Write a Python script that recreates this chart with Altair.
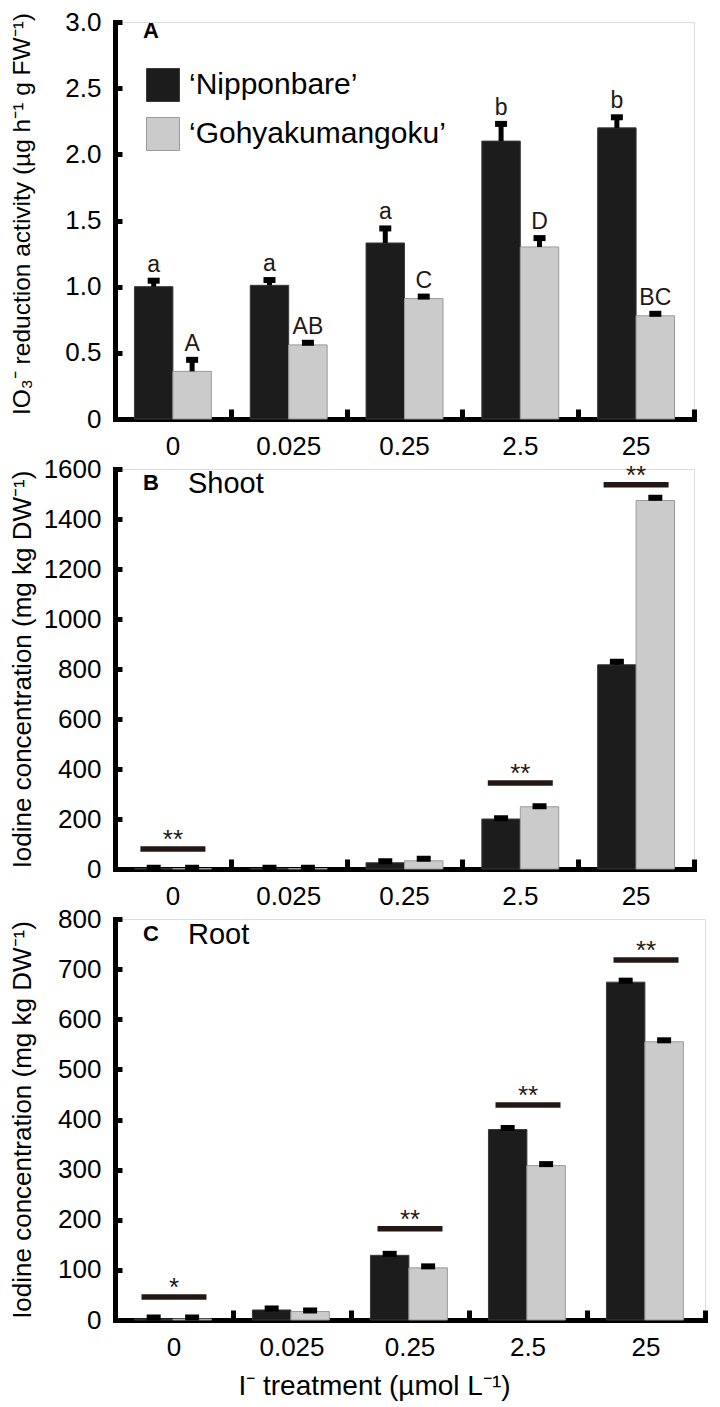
import altair as alt
import pandas as pd

FONT = "Liberation Sans"

treatments = ["0", "0.025", "0.25", "2.5", "25"]
cultivars = ["\u2018Nipponbare\u2019", "\u2018Gohyakumangoku\u2019"]
bar_colors = ["#1c1c1c", "#cbcbcb"]
edge_colors = ["#3a3a3a", "#9a9a9a"]

# Panel A: IO3- reduction activity
a_nip = [1.00, 1.01, 1.33, 2.10, 2.20]
a_nip_se = [0.045, 0.04, 0.11, 0.13, 0.08]
a_goh = [0.36, 0.56, 0.91, 1.30, 0.78]
a_goh_se = [0.087, 0.016, 0.015, 0.067, 0.015]
a_nip_letters = ["a", "a", "a", "b", "b"]
a_goh_letters = ["A", "AB", "C", "D", "BC"]

# Panel B: shoot iodine
b_nip = [2, 2, 25, 200, 817]
b_nip_se = [3, 3, 6, 3, 12]
b_goh = [2, 2, 33, 249, 1474]
b_goh_se = [3, 3, 8, 2, 11]
b_sig_treat = ["0", "2.5", "25"]
b_sig_y = [80, 344, 1537]
b_sig_text = ["**", "**", "**"]

# Panel C: root iodine
c_nip = [2, 20, 129, 380, 674]
c_nip_se = [3, 3, 3, 3, 3]
c_goh = [2, 17, 104, 308, 555]
c_goh_se = [3, 2, 3, 3, 3]
c_sig_treat = ["0", "0.25", "2.5", "25"]
c_sig_y = [46, 182, 429, 718]
c_sig_text = ["*", "**", "**", "**"]


def bars_df(nip, nip_se, goh, goh_se, nl=None, gl=None):
    rows = []
    for i, t in enumerate(treatments):
        rows.append(dict(treatment=t, cultivar=cultivars[0], mean=nip[i],
                         top=nip[i] + nip_se[i], letter=nl[i] if nl else ""))
        rows.append(dict(treatment=t, cultivar=cultivars[1], mean=goh[i],
                         top=goh[i] + goh_se[i], letter=gl[i] if gl else ""))
    return pd.DataFrame(rows)


def panel(df, sig_df, ymax, ystep, H, W, ytitle, title_size, title_shift, off_pad, cap_w,
          label, sublabel, label_y, legend, xtitle, label_expr):
    n = int(round(ymax / ystep))
    yvals = [round(i * ystep, 4) for i in range(n + 1)]
    xscale = alt.Scale(domain=treatments, paddingInner=0, paddingOuter=0)
    oscale = alt.Scale(domain=cultivars, paddingInner=0, paddingOuter=off_pad)
    yscale = alt.Scale(domain=[0, ymax], nice=False, zero=True)

    xax = dict(orient="bottom", labelAngle=0, ticks=False, tickSize=0,
               domain=True, domainWidth=5, domainColor="black", domainCap="square",
               labelPadding=14, labelFontSize=26, labelFont=FONT, labelColor="black",
               grid=False)
    if xtitle:
        xax.update(title=xtitle, titleX=259, titleY=74, titleFontSize=28,
                   titleFont=FONT, titleFontWeight="normal", titleBaseline="alphabetic",
                   titleAlign="center", titleColor="black")
    else:
        xax.update(title=None)

    yax = alt.Axis(orient="left", title=ytitle, titleX=-93, titleY=H / 2 - title_shift,
                   titleAngle=270, titleBaseline="middle", titleAlign="center",
                   titleFontSize=title_size, titleFont=FONT, titleFontWeight="normal",
                   titleColor="black", values=yvals, labelExpr=label_expr,
                   ticks=False, tickSize=0, domain=True, domainWidth=5,
                   domainColor="black", domainCap="square", labelPadding=14,
                   labelFontSize=26, labelFont=FONT, labelColor="black", grid=False)

    xoff = alt.XOffset("cultivar:N", scale=oscale, sort=cultivars)

    bars = alt.Chart(df).mark_bar(strokeWidth=1).encode(
        x=alt.X("treatment:N", scale=xscale, sort=treatments, axis=alt.Axis(**xax)),
        xOffset=xoff,
        y=alt.Y("mean:Q", scale=yscale, axis=yax),
        color=alt.Color("cultivar:N", scale=alt.Scale(domain=cultivars, range=bar_colors),
                        sort=cultivars, legend=legend),
        stroke=alt.Stroke("cultivar:N", scale=alt.Scale(domain=cultivars, range=edge_colors),
                          sort=cultivars, legend=None),
    )

    stems = alt.Chart(df).mark_rule(strokeWidth=5, color="black").encode(
        x=alt.X("treatment:N", scale=xscale, sort=treatments, axis=None),
        xOffset=xoff,
        y=alt.Y("mean:Q", scale=yscale, axis=None),
        y2="top:Q",
    )

    caps = alt.Chart(df).mark_tick(thickness=6, size=cap_w, color="black", opacity=1).encode(
        x=alt.X("treatment:N", scale=xscale, sort=treatments,
                axis=alt.Axis(orient="top", offset=-H, labels=False, domain=False,
                              ticks=True, tickBand="extent", tickSize=10, tickWidth=5,
                              tickColor="black", title=None, grid=False,
                              minExtent=0, maxExtent=0)),
        xOffset=xoff,
        y=alt.Y("top:Q", scale=yscale,
                axis=alt.Axis(orient="right", offset=-W, labels=False, domain=False,
                              ticks=True, tickSize=7, tickWidth=5, tickColor="black",
                              values=yvals, title=None, grid=False,
                              minExtent=0, maxExtent=0)),
    )

    layers = [bars, stems, caps]

    if (df["letter"] != "").any():
        letters = alt.Chart(df).mark_text(font=FONT, fontSize=23, baseline="alphabetic",
                                          dy=-9, color="#231815").encode(
            x=alt.X("treatment:N", scale=xscale, sort=treatments, axis=None),
            xOffset=xoff,
            y=alt.Y("top:Q", scale=yscale, axis=None),
            text="letter:N",
        )
        layers.append(letters)

    if sig_df is not None:
        sig_line = alt.Chart(sig_df).mark_tick(thickness=5.5, size=65, color="#231815",
                                               opacity=1).encode(
            x=alt.X("treatment:N", scale=xscale, sort=treatments, axis=None),
            y=alt.Y("y:Q", scale=yscale, axis=None),
        )
        sig_txt = alt.Chart(sig_df).mark_text(font=FONT, fontSize=26, baseline="alphabetic",
                                              dy=-1, color="#231815").encode(
            x=alt.X("treatment:N", scale=xscale, sort=treatments, axis=None),
            y=alt.Y("y:Q", scale=yscale, axis=None),
            text="sig:N",
        )
        layers += [sig_line, sig_txt]

    lab = alt.Chart(pd.DataFrame({"t": [label]})).mark_text(
        font=FONT, fontSize=22, fontWeight="bold", align="left", baseline="alphabetic",
        color="black").encode(x=alt.value(28), y=alt.value(label_y), text="t:N")
    layers.append(lab)
    if sublabel:
        sub = alt.Chart(pd.DataFrame({"t": [sublabel]})).mark_text(
            font=FONT, fontSize=29, align="left", baseline="alphabetic",
            color="black").encode(x=alt.value(73), y=alt.value(label_y + 3), text="t:N")
        layers.append(sub)

    return alt.layer(*layers).resolve_axis(x="independent", y="independent").properties(
        width=W, height=H)


legend_a = alt.Legend(title=None, orient="none", legendX=31, legendY=46,
                      symbolType="square", symbolSize=1089, symbolStrokeColor="#8c8c8c",
                      symbolStrokeWidth=1, symbolOpacity=1, labelFontSize=30,
                      labelFont=FONT, labelColor="black", labelOffset=9, rowPadding=11,
                      padding=0, labelLimit=400)

dfA = bars_df(a_nip, a_nip_se, a_goh, a_goh_se, a_nip_letters, a_goh_letters)
dfB = bars_df(b_nip, b_nip_se, b_goh, b_goh_se)
dfC = bars_df(c_nip, c_nip_se, c_goh, c_goh_se)
sigB = pd.DataFrame({"treatment": b_sig_treat, "y": b_sig_y, "sig": b_sig_text})
sigC = pd.DataFrame({"treatment": c_sig_treat, "y": c_sig_y, "sig": c_sig_text})

title_a = "IO\u2083\u207b reduction activity (\u00b5g h\u207b\u00b9 g FW\u207b\u00b9)"
title_bc = "Iodine concentration (mg kg DW\u207b\u00b9)"

A = panel(dfA, None, 3.0, 0.5, 397, 579, title_a, 24.5, 7, 0.506, 12, "A", None, 16,
          legend_a, None, "datum.value == 0 ? '0' : format(datum.value, '.1f')")
B = panel(dfB, sigB, 1600, 200, 400, 579, title_bc, 26, 0, 0.289, 14, "B", "Shoot", 21,
          None, None, "format(datum.value, 'd')")
C = panel(dfC, sigC, 800, 100, 401, 590, title_bc, 26, 0, 0.287, 14, "C", "Root", 22,
          None, "I\u207b treatment (\u00b5mol L\u207b\u00b9)", "format(datum.value, 'd')")

chart = alt.vconcat(A, B, C, spacing=50, bounds="flush").resolve_scale(
    color="independent", stroke="independent").configure_view(stroke=None).configure(
    font=FONT).properties(padding={"left": 0, "top": 0, "right": 0, "bottom": 5})

chart.save("out.html", embed_options={"renderer": "svg", "actions": False})
